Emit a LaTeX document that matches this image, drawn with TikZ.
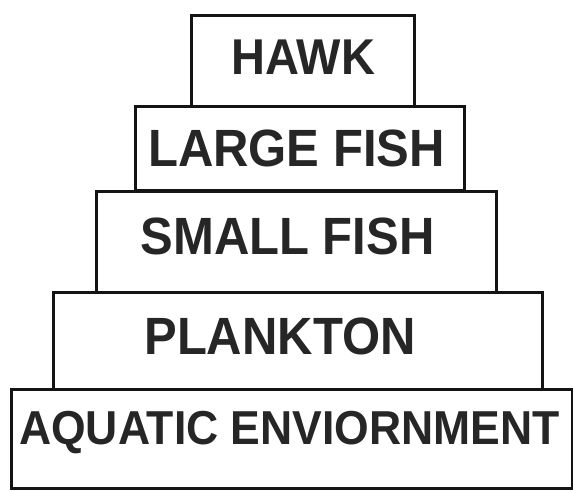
\documentclass[tikz,border=0pt]{standalone}
\usepackage{fontspec}
\usepackage{graphicx}
\setmainfont{Liberation Sans}
\newcommand{\tallify}[1]{\scalebox{1}[1.07]{#1}}
\begin{document}
\begin{tikzpicture}[x=1pt,y=-1pt,
  tier/.style={draw=black!92,line width=3.4pt,fill=white,rectangle,inner sep=0pt,anchor=north west},
  lbl/.style={anchor=base,inner sep=0pt,text=black!85,font=\bfseries\fontsize{#1}{#1}\selectfont},
  lbl/.default=49]
\useasboundingbox (0,0) rectangle (573,490);
\node[tier,minimum width=561pt,minimum height=99pt] (aqbox) at (10,388) {};
\node[tier,minimum width=489pt,minimum height=97pt] (plbox) at (52,291) {};
\node[tier,minimum width=400pt,minimum height=101pt] (smbox) at (95,190) {};
\node[tier,minimum width=329pt,minimum height=84pt] (lgbox) at (134,105) {};
\node[tier,minimum width=223pt,minimum height=91pt] (hkbox) at (190,14) {};
\node[lbl=47] (hawk) at (303.5,74) {\tallify{HAWK}};
\node[lbl] (large) at (296.5,166) {\tallify{LARGE FISH}};
\node[lbl] (small) at (287.5,254) {\tallify{SMALL FISH}};
\node[lbl] (plank) at (280,354) {\tallify{PLANKTON}};
\node[lbl=44.5] (aqua) at (289.5,444) {\tallify{AQUATIC ENVIORNMENT}};
\end{tikzpicture}
\end{document}
